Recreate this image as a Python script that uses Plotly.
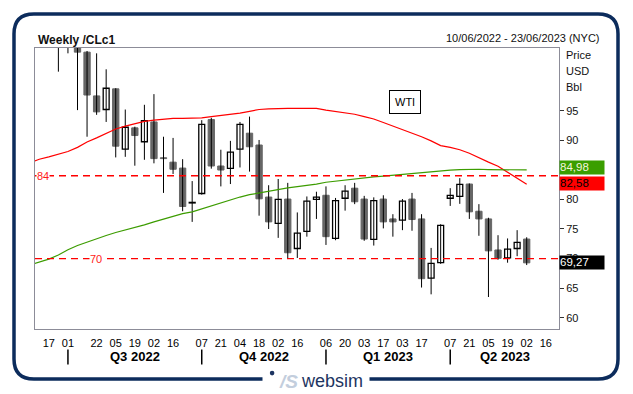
import plotly.graph_objects as go
import pandas as pd

# ---------------- data ----------------
weeks = ["2022-06-24", "2022-07-01", "2022-07-08", "2022-07-15", "2022-07-22", "2022-07-29", "2022-08-05",
         "2022-08-12", "2022-08-19", "2022-08-26", "2022-09-02", "2022-09-09", "2022-09-16", "2022-09-23",
         "2022-09-30", "2022-10-07", "2022-10-14", "2022-10-21", "2022-10-28", "2022-11-04", "2022-11-11",
         "2022-11-18", "2022-11-25", "2022-12-02", "2022-12-09", "2022-12-16", "2022-12-23", "2022-12-30",
         "2023-01-06", "2023-01-13", "2023-01-20", "2023-01-27", "2023-02-03", "2023-02-10", "2023-02-17",
         "2023-02-24", "2023-03-03", "2023-03-10", "2023-03-17", "2023-03-24", "2023-03-31", "2023-04-07",
         "2023-04-14", "2023-04-21", "2023-04-28", "2023-05-05", "2023-05-12", "2023-05-19", "2023-05-26",
         "2023-06-02"]
open_ = [109.0, 107.4, 108.4, 104.9, 97.5, 95.2, 98.7, 88.5, 92.1, 89.75, 93.1, 87.05, 86.3, 85.3, 79.4,
         81.0, 93.5, 85.65, 85.26, 88.5, 91.2, 89.2, 80.4, 75.95, 80.06, 71.7, 74.6, 80.0, 80.7, 73.4,
         80.2, 81.9, 80.06, 73.25, 80.06, 76.7, 76.5, 80.06, 76.7, 66.7, 69.3, 80.2, 80.5, 82.6, 78.0,
         76.7, 71.45, 70.1, 71.7, 73.3]
high = [110.5, 111.4, 111.0, 105.1, 104.7, 102.0, 98.8, 95.2, 92.3, 96.0, 97.8, 90.6, 90.4, 86.8, 83.1,
        93.4, 93.8, 88.4, 89.9, 93.1, 94.0, 90.05, 82.4, 83.45, 82.8, 77.8, 80.5, 81.3, 82.2, 80.25,
        82.4, 82.8, 80.6, 80.35, 80.7, 77.5, 80.06, 81.1, 77.5, 71.8, 75.8, 81.9, 83.6, 82.7, 79.2,
        76.9, 73.95, 73.4, 74.8, 73.6]
low = [101.6, 104.7, 95.1, 90.6, 94.3, 93.1, 87.1, 87.2, 85.7, 86.7, 86.1, 81.1, 84.3, 78.0, 76.2,
       80.8, 85.2, 82.2, 82.6, 85.4, 84.7, 77.25, 75.0, 73.5, 70.0, 70.1, 73.7, 76.7, 72.3, 73.1,
       78.1, 79.2, 73.0, 72.2, 75.1, 73.7, 74.8, 74.7, 65.1, 63.95, 69.1, 78.9, 79.25, 76.7, 73.85,
       63.5, 69.8, 69.3, 70.4, 68.9]
close = [107.6, 108.4, 104.9, 97.65, 94.8, 98.8, 89.0, 92.2, 90.8, 93.3, 86.9, 86.9, 85.1, 78.8, 79.5,
         92.7, 85.65, 84.97, 88.0, 92.7, 88.9, 80.1, 76.2, 80.0, 70.98, 74.3, 79.7, 80.4, 73.7, 79.8,
         81.4, 79.6, 73.3, 79.8, 76.2, 76.2, 79.7, 76.6, 66.6, 69.2, 75.6, 80.7, 82.55, 77.9, 76.7,
         71.3, 70.05, 71.6, 72.75, 69.27]

# moving averages (they start 3 weeks before the first visible candle)
ma_weeks = ["2022-06-03", "2022-06-10", "2022-06-17"] + weeks
ma_red = [86.2, 86.8, 87.2, 87.6, 88.1, 88.8, 89.7, 90.4, 91.2, 91.9, 92.4, 92.8, 93.2, 93.4, 93.6,
          93.7, 93.7, 93.7, 93.8, 94.0, 94.2, 94.3, 94.6, 94.9, 95.2, 95.3, 95.4, 95.4, 95.4, 95.4,
          95.4, 95.1, 94.9, 94.7, 94.4, 94.0, 93.6, 93.0, 92.4, 91.8, 91.3, 90.6, 89.9, 89.1, 88.8,
          88.4, 87.8, 87.0, 86.3, 85.6, 84.6, 83.6, 82.58]
ma_green = [68.9, 69.4, 69.9, 70.6, 71.5, 72.2, 72.8, 73.4, 73.9, 74.4, 74.8, 75.2, 75.7, 76.2, 76.7,
            77.2, 77.6, 77.9, 78.4, 79.0, 79.5, 79.95, 80.4, 80.8, 81.1, 81.4, 81.7, 81.95, 82.15, 82.35,
            82.6, 82.9, 83.1, 83.3, 83.5, 83.65, 83.8, 83.95, 84.1, 84.3, 84.45, 84.6, 84.75, 84.85, 84.95,
            85.05, 85.1, 85.1, 85.05, 85.0, 85.0, 85.0, 84.98]

levels = [84, 70]

tick_dates = ["2022-06-17", "2022-07-01", "2022-07-22", "2022-08-05", "2022-08-19", "2022-09-02",
              "2022-09-16", "2022-10-07", "2022-10-21", "2022-11-04", "2022-11-18", "2022-12-02",
              "2022-12-16", "2023-01-06", "2023-01-20", "2023-02-03", "2023-02-17", "2023-03-03",
              "2023-03-17", "2023-04-07", "2023-04-21", "2023-05-05", "2023-05-19", "2023-06-02",
              "2023-06-16"]
tick_text = ["17", "01", "22", "05", "19", "02", "16", "07", "21", "04", "18", "02", "16", "06", "20",
             "03", "17", "03", "17", "07", "21", "05", "19", "02", "16"]
quarter_starts = ["2022-07-01", "2022-10-07", "2023-01-06", "2023-04-07"]
quarter_ends = ["2022-10-07", "2023-01-06", "2023-04-07", "2023-06-26"]
quarter_names = ["Q3 2022", "Q4 2022", "Q1 2023", "Q2 2023"]

x_start, x_end = "2022-06-06 21:00", "2023-06-25 16:00"
yticks = [60, 65, 70, 75, 80, 85, 90, 95]

# ---------------- geometry helpers (page pixel coords) ----------------
PAGE_W, PAGE_H = 633, 394
BODY = 8  # default page margin around the plot div
W, H = PAGE_W - BODY, PAGE_H - BODY
PL, PR, PT, PB = 35, 559, 48, 329


def fx(px):
    return (px - PL) / (PR - PL)


def fy(py):
    return (PB - py) / (PB - PT)


WEEK_MS = 7 * 24 * 3600 * 1000
n = len(close)

fig = go.Figure()

# wicks
wx, wy = [], []
for i in range(n):
    wx += [weeks[i], weeks[i], None]
    wy += [low[i], high[i], None]
fig.add_trace(go.Scatter(x=wx, y=wy, mode="lines", line=dict(color="#000000", width=1),
                         hoverinfo="skip"))

# bodies
up = [i for i in range(n) if close[i] >= open_[i]]
dn = [i for i in range(n) if close[i] < open_[i]]
fig.add_trace(go.Bar(x=[weeks[i] for i in up], base=[open_[i] for i in up],
                     y=[close[i] - open_[i] for i in up], width=0.62 * WEEK_MS,
                     marker=dict(color="#ffffff", line=dict(color="#000000", width=1.3)),
                     hoverinfo="skip"))
fig.add_trace(go.Bar(x=[weeks[i] for i in dn], base=[close[i] for i in dn],
                     y=[open_[i] - close[i] for i in dn], width=0.66 * WEEK_MS,
                     marker=dict(color="#666666", line=dict(color="#666666", width=1)),
                     hoverinfo="skip"))

fig.add_trace(go.Scatter(x=ma_weeks, y=ma_red, mode="lines", line=dict(color="#ff0000", width=1.2),
                         hoverinfo="skip"))
fig.add_trace(go.Scatter(x=ma_weeks, y=ma_green, mode="lines", line=dict(color="#3c9c00", width=1.2),
                         hoverinfo="skip"))

shapes = []
annotations = []


def note(x, y, text, size, color="#111111", xanchor="center", yanchor="middle", xref="paper",
         yref="paper", family="Liberation Sans", **kw):
    annotations.append(dict(xref=xref, yref=yref, x=x, y=y, text=text, showarrow=False,
                            xanchor=xanchor, yanchor=yanchor,
                            font=dict(size=size, color=color, family=family), **kw))


# horizontal dashed levels
for lv in levels:
    shapes.append(dict(type="line", xref="paper", yref="y", x0=0, x1=1, y0=lv, y1=lv,
                       line=dict(color="#ff0000", width=1.3, dash="7px,5px"), layer="above"))
level_label_px = [42.5, 96]
for lv, px in zip(levels, level_label_px):
    note(fx(px), lv, str(lv), 11, color="#ff1a1a", yref="y", bgcolor="#ffffff", borderpad=0)

# frame with rounded corners (gap for logo)
fl, fr, ft, fb, rad = 14, 618, 14, 379, 20
gap_l, gap_r = 262.5, 369.5
pts = [("M", gap_r, fb), ("L", fr - rad, fb), ("Q", fr, fb, fr, fb - rad), ("L", fr, ft + rad),
       ("Q", fr, ft, fr - rad, ft), ("L", fl + rad, ft), ("Q", fl, ft, fl, ft + rad),
       ("L", fl, fb - rad), ("Q", fl, fb, fl + rad, fb), ("L", gap_l, fb)]
path = ""
for p in pts:
    if p[0] == "Q":
        path += f"Q{fx(p[1]):.5f},{fy(p[2]):.5f} {fx(p[3]):.5f},{fy(p[4]):.5f} "
    else:
        path += f"{p[0]}{fx(p[1]):.5f},{fy(p[2]):.5f} "
shapes.append(dict(type="path", xref="paper", yref="paper", path=path,
                   line=dict(color="#0c2c5c", width=3.5)))

# quarter separators & labels
for qs, qe, qn in zip(quarter_starts, quarter_ends, quarter_names):
    shapes.append(dict(type="line", xref="x", yref="paper", x0=qs, x1=qs, y0=fy(349.5), y1=fy(364.5),
                       line=dict(color="#000000", width=1.5)))
    mid = pd.Timestamp(qs) + (pd.Timestamp(qe) - pd.Timestamp(qs)) / 2
    note(mid.strftime("%Y-%m-%d %H:%M"), fy(356.5), f"<b>{qn}</b>", 13, color="#000000", xref="x")

# titles
note(fx(36), fy(39.5), "<b>Weekly /CLc1</b>", 12, xanchor="left")
note(fx(602), fy(37.5), "10/06/2022 - 23/06/2023 (NYC)", 11, xanchor="right")
for txt, py in zip(["Price", "USD", "Bbl"], [55, 71, 87]):
    note(fx(564), fy(py), txt, 11, xanchor="left")

# WTI box
note(fx(404.7), fy(101.8), "WTI", 11, color="#000000",
     bordercolor="#000000", borderwidth=1, borderpad=5, bgcolor="#ffffff")


# last value labels
def fmt(v):
    return f"{v:.2f}".replace(".", ",")


value_labels = [(ma_green[-1], "#3a9e00", "#f4f4dc", 2.6), (ma_red[-1], "#ff0000", "#000000", 0.6),
                (close[-1], "#000000", "#ffffff", 0)]
for v, bg, fc, ys in value_labels:
    note(1, v, fmt(v), 11.5, color=fc, xanchor="left", yref="y", yshift=ys,
         width=44, height=12.5, align="left", bgcolor=bg, borderpad=0)

# logo
shapes.append(dict(type="circle", xref="paper", yref="paper", x0=fx(269.8), x1=fx(274.4),
                   y0=fy(375.4), y1=fy(370.8), fillcolor="#1d3461", line=dict(width=0)))
note(fx(288.5), fy(381), "<b><i>/S</i></b>", 19, color="#c3cedd")
note(fx(332), fy(380.5), "websim", 18, color="#1d3461")

yv_top = 95 + (110.7 - PT) / 5.914
yv_bot = 60 - (PB - 317.7) / 5.914

fig.update_layout(
    width=W, height=H,
    margin=dict(l=PL - BODY, r=PAGE_W - PR, t=PT - BODY, b=PAGE_H - PB),
    paper_bgcolor="#ffffff", plot_bgcolor="#ffffff",
    showlegend=False, barmode="overlay",
    font=dict(family="Liberation Sans", color="#111111"),
    xaxis=dict(type="date", range=[x_start, x_end],
               tickmode="array", tickvals=tick_dates, ticktext=tick_text, tickangle=0,
               showgrid=False, zeroline=False, ticks="", ticklabelstandoff=4,
               showline=True, mirror=True, linecolor="#8c8c98", linewidth=1,
               tickfont=dict(size=11, color="#000000", family="Liberation Sans")),
    yaxis=dict(side="right", range=[yv_bot, yv_top], tickmode="array", tickvals=yticks,
               ticks="outside", ticklen=4, tickcolor="#333333", showgrid=False, zeroline=False,
               showline=True, mirror=True, linecolor="#8c8c98", linewidth=1,
               tickfont=dict(size=11, color="#111111", family="Liberation Sans")),
    shapes=shapes, annotations=annotations,
)

fig.write_html("out.html", config={"displayModeBar": False})
